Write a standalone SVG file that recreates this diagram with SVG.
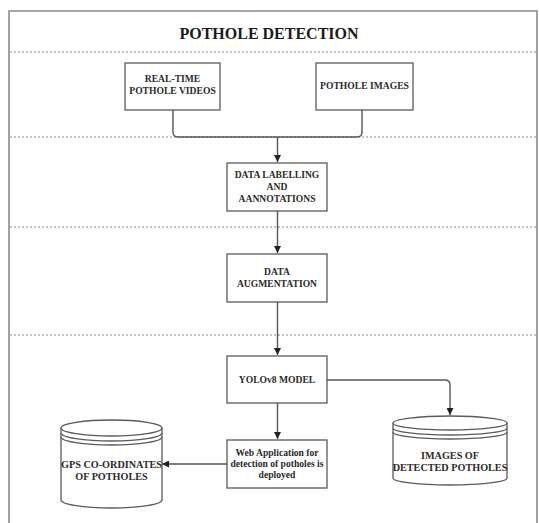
<svg xmlns="http://www.w3.org/2000/svg" width="539" height="523" viewBox="0 0 539 523">
<defs>
<marker id="ah" viewBox="0 0 10 10" refX="10" refY="5" markerWidth="7" markerHeight="7" orient="auto" markerUnits="userSpaceOnUse"><path d="M0,0 L10,5 L0,10 z" fill="#222"/></marker>
</defs>
<style>
.frame{fill:none;stroke:#8a8a8a;stroke-width:1.6}
.dot{stroke:#8a8a8a;stroke-width:1.2;stroke-dasharray:2 2}
.box{fill:#fff;stroke:#5a5a5a;stroke-width:1.3}
.cyl{fill:#fff;stroke:#5a5a5a;stroke-width:1.3}
.conn{fill:none;stroke:#555;stroke-width:1.4}
.t{font-family:"Liberation Serif","Times New Roman",serif;font-weight:bold;fill:#2a2a2a;text-anchor:middle;font-size:9.6px}
.tc{font-size:10.2px}
.title{font-family:"Liberation Serif","Times New Roman",serif;font-weight:bold;fill:#1a1a1a;text-anchor:middle;font-size:16px}
</style>
<rect width="539" height="523" fill="#fff"/>
<g id="frame">
<path class="frame" d="M9,523 V11 H537 V523"/>
<line class="dot" x1="10" y1="52" x2="537" y2="52"/>
<line class="dot" x1="10" y1="137" x2="537" y2="137"/>
<line class="dot" x1="10" y1="227" x2="537" y2="227"/>
<line class="dot" x1="10" y1="335" x2="537" y2="335"/>
<text class="title" x="269" y="39">POTHOLE DETECTION</text>
</g>
<g id="connectors">
<path class="conn" d="M173,110 V132 Q173,137 178,137 H357 Q362,137 362,132 V110"/>
<path class="conn" d="M277.5,137 V162" marker-end="url(#ah)"/>
<path class="conn" d="M277.5,211 V253" marker-end="url(#ah)"/>
<path class="conn" d="M277.5,302 V355" marker-end="url(#ah)"/>
<path class="conn" d="M277.5,403 V439" marker-end="url(#ah)"/>
<path class="conn" d="M327,380 H445 Q450,380 450,385 V415" marker-end="url(#ah)"/>
<path class="conn" d="M227,464 H162" marker-end="url(#ah)"/>
</g>
<g id="realtime">
<rect class="box" x="125" y="63" width="95" height="47"/>
<text class="t" x="172.5" y="82">REAL-TIME</text>
<text class="t" x="172.5" y="94">POTHOLE VIDEOS</text>
</g>
<g id="images">
<rect class="box" x="316" y="63" width="97" height="47"/>
<text class="t" x="364.5" y="89">POTHOLE IMAGES</text>
</g>
<g id="labelling">
<rect class="box" x="227" y="163" width="100" height="48"/>
<text class="t" x="277" y="178">DATA LABELLING</text>
<text class="t" x="277" y="190">AND</text>
<text class="t" x="277" y="202">AANNOTATIONS</text>
</g>
<g id="augmentation">
<rect class="box" x="227" y="254" width="100" height="48"/>
<text class="t" x="277" y="275">DATA</text>
<text class="t" x="277" y="287">AUGMENTATION</text>
</g>
<g id="yolo">
<rect class="box" x="227" y="356" width="100" height="47"/>
<text class="t" x="277" y="383">YOLOv8 MODEL</text>
</g>
<g id="webapp">
<rect class="box" x="227" y="440" width="100" height="48"/>
<text class="t" x="277" y="456">Web Application for</text>
<text class="t" x="277" y="467">detection of potholes is</text>
<text class="t" x="277" y="478">deployed</text>
</g>
<g id="gps">
<path class="cyl" d="M61,428 A50.5,8 0 0 1 162,428 V500 A50.5,8 0 0 1 61,500 Z"/>
<path class="cyl" fill="none" d="M61,428 A50.5,8 0 0 0 162,428 M61,433 A50.5,8 0 0 0 162,433 M61,437 A50.5,8 0 0 0 162,437"/>
<text class="t tc" x="111.5" y="468">GPS CO-ORDINATES</text>
<text class="t tc" x="111.5" y="480">OF POTHOLES</text>
</g>
<g id="detected">
<path class="cyl" d="M393,423 A57,7 0 0 1 507,423 V478 A57,7 0 0 1 393,478 Z"/>
<path class="cyl" fill="none" d="M393,423 A57,7 0 0 0 507,423 M393,428 A57,7 0 0 0 507,428 M393,432 A57,7 0 0 0 507,432"/>
<text class="t tc" x="450" y="459">IMAGES OF</text>
<text class="t tc" x="450" y="471">DETECTED POTHOLES</text>
</g>
</svg>
